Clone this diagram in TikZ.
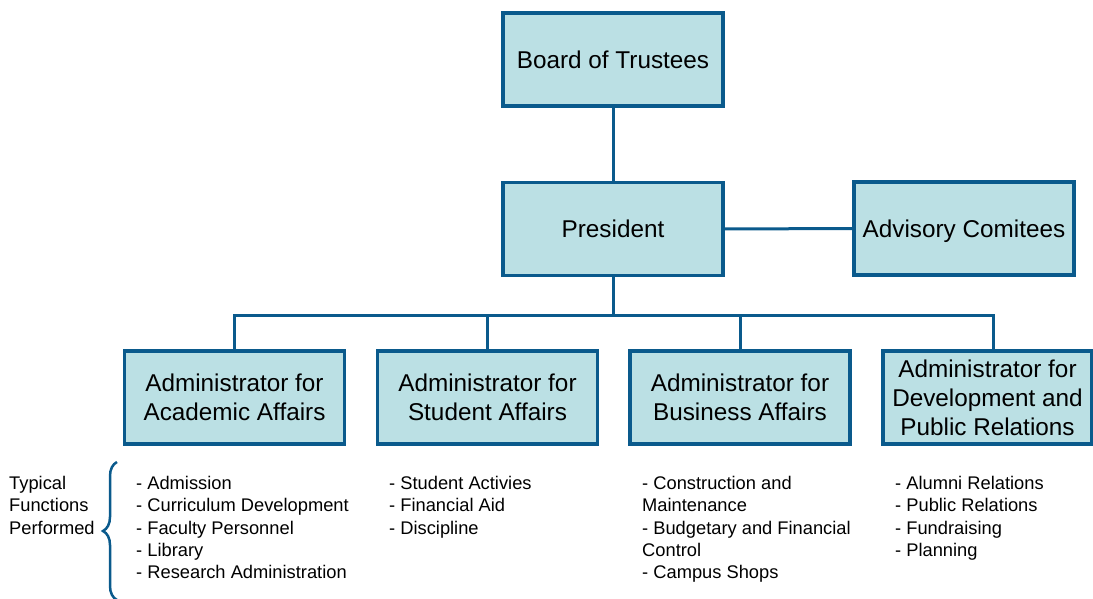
\documentclass[tikz,border=0pt]{standalone}
\usepackage{fontspec}
\setmainfont{Liberation Sans}
\usetikzlibrary{decorations.pathreplacing}
\definecolor{edge}{RGB}{10,90,140}
\definecolor{boxfill}{RGB}{187,224,228}
\begin{document}
\begin{tikzpicture}[x=1pt,y=-1pt,
  orgbox/.style={draw=edge,line width=3.2pt,fill=boxfill,minimum width=220pt,minimum height=93pt,align=center,inner sep=0pt,text depth=-4pt,font=\fontsize{24.3}{29}\selectfont},
  link/.style={draw=edge,line width=3pt},
  listtext/.style={anchor=north west,align=left,inner sep=0pt,font=\fontsize{18.3}{22.3}\selectfont}]
\useasboundingbox (0,0) rectangle (1093,599);
\node[orgbox] (board) at (613,59.5) {Board of Trustees};
\node[orgbox] (pres) at (613,229) {President};
\node[orgbox] (adv) at (964,228.5) {Advisory Comitees};
\node[orgbox] (acad) at (234.5,397.5) {Administrator for\\Academic Affairs};
\node[orgbox] (stud) at (487.5,397.5) {Administrator for\\Student Affairs};
\node[orgbox] (bus) at (740,397.5) {Administrator for\\Business Affairs};
\node[orgbox,minimum width=209pt] (dev) at (987.5,397.5) {Administrator for\\Development and\\Public Relations};
\coordinate (hub) at (613,315);
\draw[link] (board.south) -- (pres.north);
\draw[link] (pres.east) -- (adv.west);
\draw[link] (pres.south) -- (hub);
\draw[link] (hub) -| (acad.north);
\draw[link] (hub) -| (stud.north);
\draw[link] (hub) -| (bus.north);
\draw[link] (hub) -| ([xshift=5.5pt]dev.north);
\node[listtext] (label) at (9,476) {Typical\\Functions\\Performed};
\coordinate (braceTop) at (117,462);
\coordinate (braceBot) at (117,600);
\draw[edge,line width=2.5pt,decorate,decoration={brace,amplitude=14pt}] (braceBot) -- (braceTop);
\node[listtext] (facad) at (136,476) {- Admission\\- Curriculum Development\\- Faculty Personnel\\- Library\\- Research Administration};
\node[listtext] (fstud) at (389,476) {- Student Activies\\- Financial Aid\\- Discipline};
\node[listtext] (fbus) at (642,476) {- Construction and\\Maintenance\\- Budgetary and Financial\\Control\\- Campus Shops};
\node[listtext] (fdev) at (895,476) {- Alumni Relations\\- Public Relations\\- Fundraising\\- Planning};
\end{tikzpicture}
\end{document}
